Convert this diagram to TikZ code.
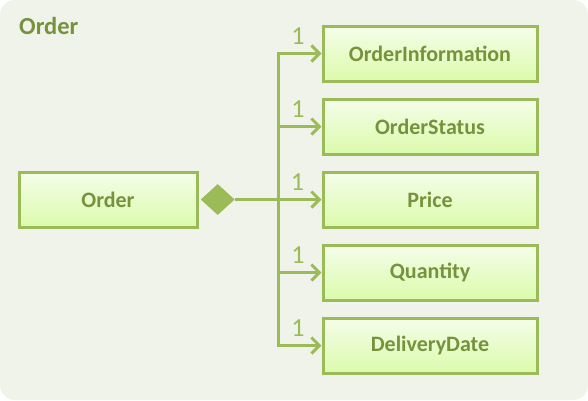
\documentclass[tikz,border=0pt]{standalone}
\usepackage{fontspec}
\setmainfont{Carlito}
\usepackage{tikz}
\usetikzlibrary{arrows.meta,positioning,shapes.geometric,calc}
\definecolor{ordBack}{HTML}{F0F3EA}
\definecolor{ordLine}{HTML}{9BBB59}
\definecolor{ordText}{HTML}{76923C}
\definecolor{ordTop}{HTML}{F5FDEA}
\definecolor{ordBottom}{HTML}{DBFBAB}

\begin{document}
\begin{tikzpicture}[
  x=1pt, y=1pt,
  node distance=15pt and 124pt,
  cls/.style={draw=ordLine, line width=3pt, top color=ordTop, bottom color=ordBottom, minimum width=214pt, minimum height=55pt, inner sep=0pt, font=\fontsize{22}{24}\selectfont\bfseries, text=ordText},
  agg/.style={diamond, fill=ordLine, minimum width=34pt, minimum height=31pt, inner sep=0pt},
  mult/.style={font=\fontsize{26}{28}\selectfont, text=ordLine, inner sep=0pt},
  arr/.style={-{Straight Barb[length=8pt,width=16pt,line width=3pt]}, line width=3pt, color=ordLine},
  link/.style={line width=3pt, color=ordLine}
]
  \fill[ordBack, rounded corners=15pt] (0,0) rectangle (588,-400);
  \useasboundingbox (0,0) rectangle (588,-400);

  \node[anchor=west, font=\fontsize{24.5}{26}\selectfont\bfseries, text=ordText, inner sep=0pt] (title) at (19,-26) {Order};

  \node[cls, minimum width=178pt] (order) at (108,-199.5) {Order};
  \node[agg, right=2pt of order] (diam) {};
  \coordinate (jn) at (278,-199.5);

  \node[cls] (price) at (430,-199.5) {Price};
  \node[cls, above=of price] (status) {OrderStatus};
  \node[cls, above=of status] (info) {OrderInformation};
  \node[cls, below=of price] (qty) {Quantity};
  \node[cls, below=of qty] (date) {DeliveryDate};

  \draw[link] (diam) -- (jn);
  \draw[arr] (jn) |- node[mult, pos=0.73, above=8pt]{1} (info);
  \draw[arr] (jn) |- node[mult, pos=0.73, above=8pt]{1} (status);
  \draw[arr] (jn) -- node[mult, pos=0.45, above=8pt]{1} (price);
  \draw[arr] (jn) |- node[mult, pos=0.73, above=8pt]{1} (qty);
  \draw[arr] (jn) |- node[mult, pos=0.73, above=8pt]{1} (date);
\end{tikzpicture}
\end{document}
